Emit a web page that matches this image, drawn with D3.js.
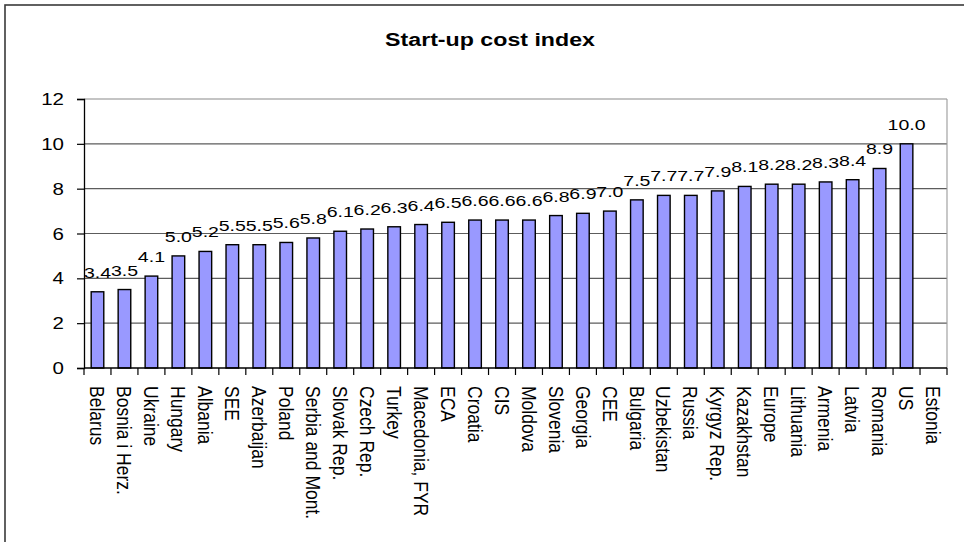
<!DOCTYPE html>
<html>
<head>
<meta charset="utf-8">
<script src="https://cdn.jsdelivr.net/npm/d3@7"></script>
<style>
  html, body { margin: 0; padding: 0; background: #fff; }
  svg { display: block; }
  text { font-family: "Liberation Sans", Arial, sans-serif; fill: #000; }
</style>
</head>
<body>
<svg id="chart" width="964" height="542"></svg>
<script>
// Start-up cost index by country / region (Estonia has no value)
const categories = [
  "Belarus", "Bosnia i Herz.", "Ukraine", "Hungary", "Albania", "SEE",
  "Azerbaijan", "Poland", "Serbia and Mont.", "Slovak Rep.", "Czech Rep.",
  "Turkey", "Macedonia, FYR", "ECA", "Croatia", "CIS", "Moldova", "Slovenia",
  "Georgia", "CEE", "Bulgaria", "Uzbekistan", "Russia", "Kyrgyz Rep.",
  "Kazakhstan", "Europe", "Lithuania", "Armenia", "Latvia", "Romania", "US",
  "Estonia"
];
const values = [
  3.4, 3.5, 4.1, 5.0, 5.2, 5.5,
  5.5, 5.6, 5.8, 6.1, 6.2,
  6.3, 6.4, 6.5, 6.6, 6.6, 6.6, 6.8,
  6.9, 7.0, 7.5, 7.7, 7.7, 7.9,
  8.1, 8.2, 8.2, 8.3, 8.4, 8.9, 10.0,
  null
];
const yTicks = [0, 2, 4, 6, 8, 10, 12];
const title = "Start-up cost index";

const data = categories.map((c, i) => ({ name: c, value: values[i] }));

const svg = d3.select("#chart");
const plot = { left: 84, right: 947, top: 99, bottom: 368 };
const stretch = 1.26;   // horizontal glyph stretch used throughout

// outer chart frame
svg.append("rect")
  .attr("x", 5).attr("y", 5)
  .attr("width", 1000).attr("height", 600)
  .attr("fill", "none").attr("stroke", "#3a3a3a").attr("stroke-width", 1.6);

// title
svg.append("text")
  .attr("transform", `translate(490,46) scale(1.22,1)`)
  .attr("text-anchor", "middle")
  .attr("font-weight", "bold")
  .attr("font-size", 19)
  .text(title);

const x = d3.scaleBand().domain(categories).range([plot.left, plot.right]).padding(0);
const y = d3.scaleLinear().domain([0, 12]).range([plot.bottom, plot.top]);

// horizontal gridlines
svg.append("g").selectAll("line")
  .data(yTicks.filter(t => t > 0))
  .join("line")
  .attr("x1", plot.left).attr("x2", plot.right)
  .attr("y1", d => y(d)).attr("y2", d => y(d))
  .attr("stroke", d => d === 12 ? "#8a8a8a" : "#5c5c5c")
  .attr("stroke-width", 1.1);

// right plot-area border
svg.append("line")
  .attr("x1", plot.right).attr("x2", plot.right)
  .attr("y1", plot.top).attr("y2", plot.bottom)
  .attr("stroke", "#9a9a9a").attr("stroke-width", 1.1);

// bars
const barW = 12.6;
svg.append("g").selectAll("rect")
  .data(data.filter(d => d.value != null))
  .join("rect")
  .attr("x", d => x(d.name) + x.bandwidth() / 2 - barW / 2)
  .attr("y", d => y(d.value))
  .attr("width", barW)
  .attr("height", d => y(0) - y(d.value))
  .attr("fill", "#9999ff")
  .attr("stroke", "#000")
  .attr("stroke-width", 1.4);

// value labels
svg.append("g").selectAll("text")
  .data(data.filter(d => d.value != null))
  .join("text")
  .attr("transform", d => `translate(${x(d.name) + x.bandwidth() / 2},${y(d.value) - 14}) scale(${stretch},1)`)
  .attr("text-anchor", "middle")
  .attr("font-size", 15.5)
  .text(d => d3.format(".1f")(d.value));

// y axis
const yAxis = svg.append("g")
  .attr("transform", `translate(${plot.left},0)`)
  .call(d3.axisLeft(y).tickValues(yTicks).tickSize(7).tickFormat(d3.format("d")));
yAxis.select(".domain").attr("stroke", "#000").attr("stroke-width", 1.3);
yAxis.selectAll(".tick line").attr("stroke", "#000").attr("stroke-width", 1.2);
yAxis.selectAll(".tick text")
  .attr("x", null).attr("dy", "0.35em")
  .attr("transform", `translate(-20,0) scale(1.28,1)`)
  .attr("font-size", 16)
  .attr("font-family", "\"Liberation Sans\", Arial, sans-serif")
  .attr("fill", "#000");

// x axis: baseline, boundary ticks and rotated labels
svg.append("line")
  .attr("x1", plot.left).attr("x2", plot.right)
  .attr("y1", plot.bottom).attr("y2", plot.bottom)
  .attr("stroke", "#000").attr("stroke-width", 1.3);

const bounds = categories.map(c => x(c)).concat([x.range()[1]]);
svg.append("g").selectAll("line")
  .data(bounds)
  .join("line")
  .attr("x1", d => d).attr("x2", d => d)
  .attr("y1", plot.bottom).attr("y2", plot.bottom + 7)
  .attr("stroke", "#000").attr("stroke-width", 1.2);

svg.append("g").selectAll("text")
  .data(categories)
  .join("text")
  .attr("transform", d => `translate(${x(d) + x.bandwidth() / 2},386) rotate(90) scale(1,1.2)`)
  .attr("text-anchor", "start")
  .attr("dy", "0.35em")
  .attr("font-size", 17.5)
  .text(d => d);
</script>
</body>
</html>
